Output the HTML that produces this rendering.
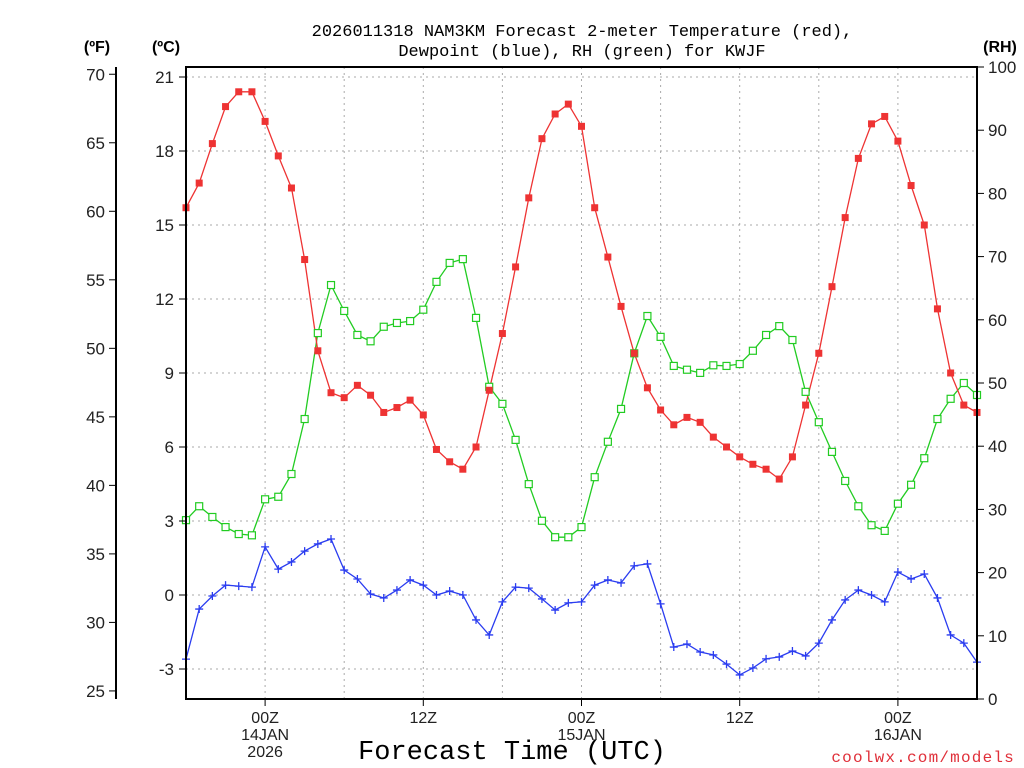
<!DOCTYPE html>
<html><head><meta charset="utf-8">
<style>
html,body{margin:0;padding:0;background:#fff;}
svg{display:block;font-family:"Liberation Sans",sans-serif;}
.mono{font-family:"Liberation Mono",monospace;}
</style></head>
<body>
<svg id="chart" width="1024" height="768" viewBox="0 0 1024 768" xmlns="http://www.w3.org/2000/svg">
<rect x="0" y="0" width="1024" height="768" fill="#fff"/>
<g id="grid"></g>
<g id="series"></g>
<rect x="186" y="67" width="791" height="632" fill="none" stroke="#000" stroke-width="2"/>
<line x1="116" y1="67" x2="116" y2="699" stroke="#000" stroke-width="2"/>
<g id="axes"></g>
<text class="mono" x="582" y="36" font-size="17" text-anchor="middle">2026011318 NAM3KM Forecast 2-meter Temperature (red),</text>
<text class="mono" x="582" y="56" font-size="17" text-anchor="middle">Dewpoint (blue), RH (green) for KWJF</text>
<text x="97" y="52" font-size="16" font-weight="bold" text-anchor="middle">(ºF)</text>
<text x="166" y="52" font-size="16" font-weight="bold" text-anchor="middle">(ºC)</text>
<text x="1000" y="52" font-size="16" font-weight="bold" text-anchor="middle">(RH)</text>
<text class="mono" x="512" y="759" font-size="27" text-anchor="middle">Forecast Time (UTC)</text>
<text class="mono" x="1015" y="762" font-size="16" fill="#e0303a" text-anchor="end" letter-spacing="1.2">coolwx.com/models</text>
</svg>
<script>
const tempC=[15.7,16.7,18.3,19.8,20.4,20.4,19.2,17.8,16.5,13.6,9.9,8.2,8.0,8.5,8.1,7.4,7.6,7.9,7.3,5.9,5.4,5.1,6.0,8.3,10.6,13.3,16.1,18.5,19.5,19.9,19.0,15.7,13.7,11.7,9.8,8.4,7.5,6.9,7.2,7.0,6.4,6.0,5.6,5.3,5.1,4.7,5.6,7.7,9.8,12.5,15.3,17.7,19.1,19.4,18.4,16.6,15.0,11.6,9.0,7.7,7.4];
const dewC=[-2.6,-0.57,-0.04,0.4,0.36,0.32,1.95,1.05,1.34,1.78,2.07,2.27,1.01,0.65,0.04,-0.12,0.2,0.61,0.4,0,0.16,0,-1.01,-1.62,-0.28,0.32,0.28,-0.16,-0.61,-0.32,-0.28,0.4,0.61,0.49,1.18,1.26,-0.36,-2.11,-1.99,-2.31,-2.43,-2.8,-3.24,-2.96,-2.59,-2.51,-2.27,-2.47,-1.95,-1.01,-0.2,0.2,0,-0.28,0.93,0.65,0.85,-0.12,-1.62,-1.95,-2.72];
const rh=[28.3,30.5,28.8,27.2,26.1,25.9,31.6,32.0,35.6,44.3,57.9,65.5,61.4,57.6,56.6,58.9,59.5,59.8,61.6,66.0,69.0,69.6,60.3,49.4,46.7,41.0,34.0,28.2,25.6,25.6,27.2,35.1,40.7,45.9,54.7,60.6,57.3,52.7,52.1,51.6,52.8,52.7,53.0,55.1,57.6,59.0,56.8,48.6,43.8,39.1,34.5,30.5,27.5,26.6,30.9,33.9,38.1,44.3,47.5,50.0,48.1];
const cTicks=[-3,0,3,6,9,12,15,18,21];
const fTicks=[25,30,35,40,45,50,55,60,65,70];
const rhTicks=[0,10,20,30,40,50,60,70,80,90,100];
const xLabels=[{h:6,l:["00Z","14JAN","2026"]},{h:18,l:["12Z"]},{h:30,l:["00Z","15JAN"]},{h:42,l:["12Z"]},{h:54,l:["00Z","16JAN"]}];

const NS="http://www.w3.org/2000/svg";
const X0=186,X1=977,Y0=67,Y1=699;
const xs=h=>X0+(X1-X0)*h/60;
const yC=c=>595-c*24.667;
const yF=f=>yC((f-32)/1.8);
const yR=r=>Y1-(Y1-Y0)*r/100;
function mk(tag,attrs,parent){const e=document.createElementNS(NS,tag);for(const k in attrs)e.setAttribute(k,attrs[k]);parent.appendChild(e);return e;}
const grid=document.getElementById('grid'),axes=document.getElementById('axes'),ser=document.getElementById('series');

cTicks.forEach(c=>{
  const y=yC(c);
  const g=mk('line',{x1:X0,x2:X1,y1:y,y2:y,stroke:'#aaa','stroke-dasharray':'2,4'},grid);
  
  
  const t=mk('line',{x1:X0-7,x2:X0,y1:y,y2:y,stroke:'#000'},axes);
  
  
  const l=mk('text',{x:X0-12,y:y+6,'font-size':17,'text-anchor':'end',fill:'#222'},axes);
  l.textContent=c;
  
  
});
for(let h=6;h<60;h+=6){
  const x=xs(h);
  const g=mk('line',{x1:x,x2:x,y1:Y0,y2:Y1,stroke:'#aaa','stroke-dasharray':'2,4'},grid);
  
  
}
fTicks.forEach(f=>{
  const y=yF(f);
  const t=mk('line',{x1:109,x2:116,y1:y,y2:y,stroke:'#000'},axes);
  
  
  const l=mk('text',{x:105,y:y+6,'font-size':17,'text-anchor':'end',fill:'#222'},axes);
  l.textContent=f;
  
  
});
rhTicks.forEach(r=>{
  const y=yR(r);
  const t=mk('line',{x1:X1,x2:X1+7,y1:y,y2:y,stroke:'#000'},axes);
  
  
  const l=mk('text',{x:988,y:y+6,'font-size':17,'text-anchor':'start',fill:'#222'},axes);
  l.textContent=r;
  
  
});
xLabels.forEach(o=>{
  const x=xs(o.h);
  const t=mk('line',{x1:x,x2:x,y1:Y1,y2:Y1+7,stroke:'#000'},axes);
  
  
  o.l.forEach((s,i)=>{
    const l=mk('text',{x:x,y:Y1+24+i*17,'font-size':16,'text-anchor':'middle',fill:'#222'},axes);
    l.textContent=s;
    
    
  });
});

function line(vals,yfn,color,name){
  const pts=vals.map((v,i)=>xs(i).toFixed(1)+','+yfn(v).toFixed(1)).join(' ');
  const p=mk('polyline',{points:pts,fill:'none',stroke:color,'stroke-width':1.3},ser);
  
  
}
line(rh,yR,'#22cc22','rh');
line(dewC,yC,'#2a3cf0','dewpoint');
line(tempC,yC,'#ee3333','temperature');
rh.forEach((v,i)=>{
  const r=mk('rect',{x:xs(i)-3.5,y:yR(v)-3.5,width:7,height:7,fill:'#fff',stroke:'#22cc22','stroke-width':1.2},ser);
  
  
});
dewC.forEach((v,i)=>{
  const x=xs(i),y=yC(v);
  const p=mk('path',{d:`M${x-4},${y}H${x+4}M${x},${y-4}V${y+4}`,stroke:'#2a3cf0','stroke-width':1.3},ser);
  
  
});
tempC.forEach((v,i)=>{
  const r=mk('rect',{x:xs(i)-3.5,y:yC(v)-3.5,width:7,height:7,fill:'#ee3333'},ser);
  
  
});
</script>
</body></html>
